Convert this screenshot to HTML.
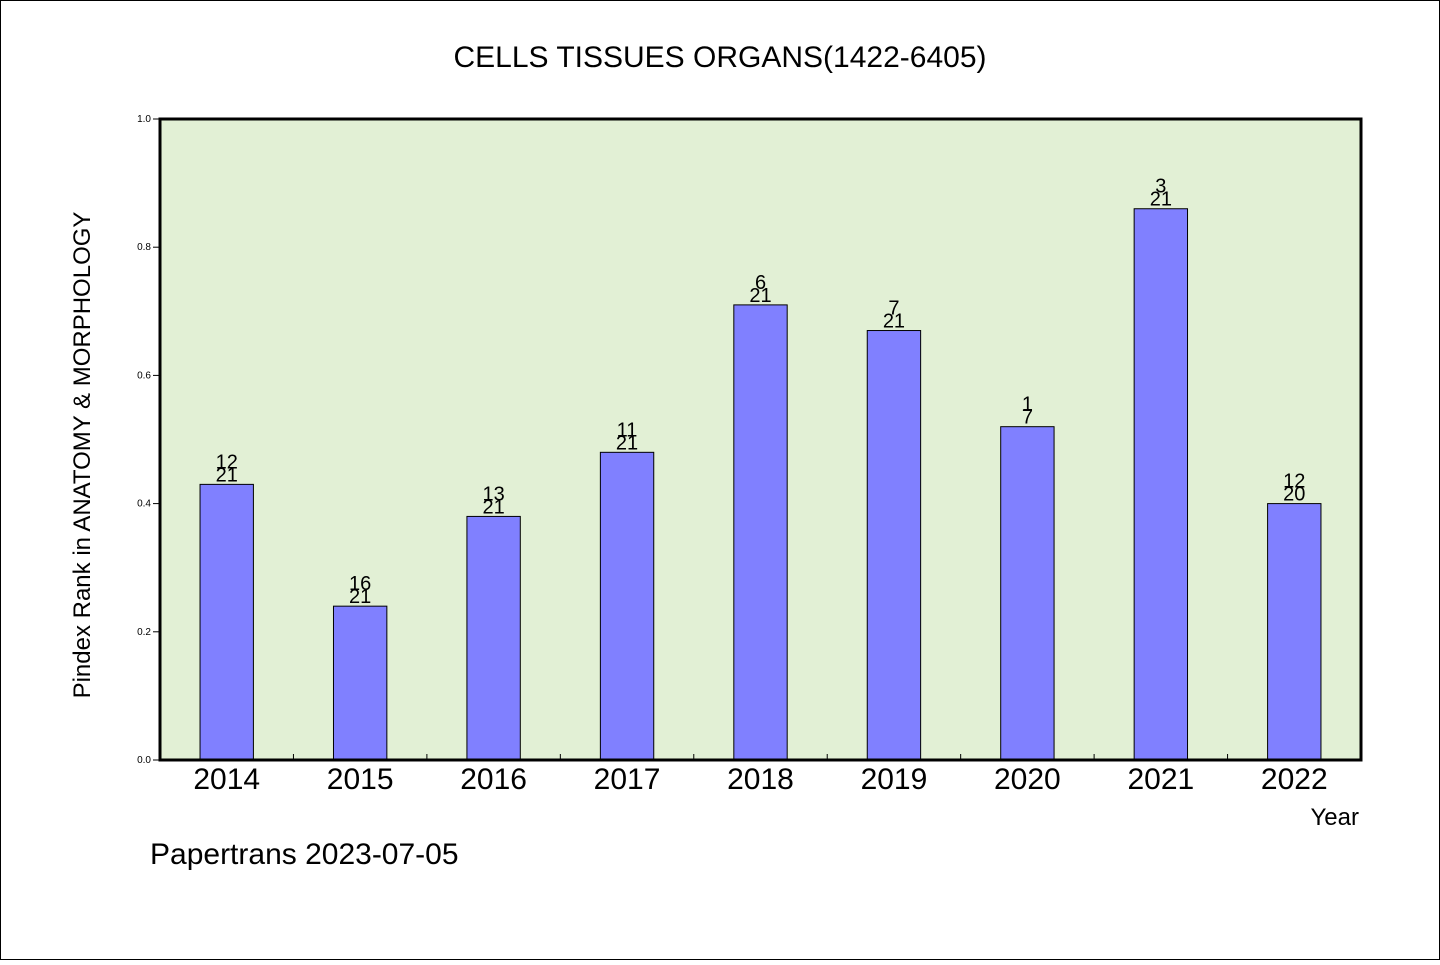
<!DOCTYPE html>
<html><head><meta charset="utf-8"><style>
html,body{margin:0;padding:0;background:#fff}
body{width:1440px;height:960px;overflow:hidden}
svg text{font-family:"WenQuanYi Zen Hei","Liberation Sans",sans-serif}
</style></head><body>
<svg id="chart" width="1440" height="960" xmlns="http://www.w3.org/2000/svg">
<rect x="0.5" y="0.5" width="1439" height="959" fill="#fff" stroke="#000" stroke-width="1"/>
<text x="720" y="67" font-size="30" text-anchor="middle">CELLS TISSUES ORGANS(1422-6405)</text>
<rect x="160" y="119" width="1201" height="641" fill="#e2f0d5"/>
<g id="bars"></g>
<g id="axes"></g>
<rect x="160" y="119" width="1201" height="641" fill="none" stroke="#000" stroke-width="3"/>
<text transform="translate(90,455) rotate(-90)" font-size="24" text-anchor="middle">Pindex Rank in ANATOMY &amp; MORPHOLOGY</text>
<text x="1359" y="825" font-size="24" text-anchor="end">Year</text>
<text x="150" y="864" font-size="30">Papertrans 2023-07-05</text>
</svg>
<script>
const categories = ["2014","2015","2016","2017","2018","2019","2020","2021","2022"];
const values = [0.43,0.24,0.38,0.48,0.71,0.67,0.52,0.86,0.40];
const ranks = ["12","16","13","11","6","7","1","3","12"];
const totals = ["21","21","21","21","21","21","7","21","20"];
const yTicks = [0,0.2,0.4,0.6,0.8,1.0];
const yTickLabels = ["0.0","0.2","0.4","0.6","0.8","1.0"];

const NS="http://www.w3.org/2000/svg";
const X0=160,X1=1361,Y0=760,Y1=119;
const band=(X1-X0)/categories.length;
const xc=i=>X0+band*(i+0.5);
const y=v=>Y0-(v)*(Y0-Y1);
function mk(tag,attrs,parent,txt){const e=document.createElementNS(NS,tag);for(const k in attrs)e.setAttribute(k,attrs[k]);if(txt!==undefined)e.textContent=txt;parent.appendChild(e);return e;}
const bars=document.getElementById('bars'),axes=document.getElementById('axes');
const bw=band*0.4;
values.forEach((v,i)=>{
  const r=mk('rect',{x:xc(i)-bw/2,y:y(v),width:bw,height:Y0-y(v),fill:'#8080ff',stroke:'#000','stroke-width':1},bars);
  
  
  const t1=mk('text',{x:xc(i),y:y(v)-16,'font-size':20,'text-anchor':'middle'},bars,ranks[i]);
  
  
  const t2=mk('text',{x:xc(i),y:y(v)-3,'font-size':20,'text-anchor':'middle'},bars,totals[i]);
  
  
  const xl=mk('text',{x:xc(i),y:789,'font-size':30,'text-anchor':'middle'},axes,categories[i]);
  
  
  if(i>0){const tk=mk('line',{x1:X0+band*i,x2:X0+band*i,y1:Y0,y2:Y0-6,stroke:'#000','stroke-width':1},axes);
  
  }
});
yTicks.forEach((v,i)=>{
  const tk=mk('line',{x1:X0-7,x2:X0,y1:y(v),y2:y(v),stroke:'#000','stroke-width':1},axes);
  
  
  const tl=mk('text',{x:X0-9,y:y(v)+3,'font-size':10,'text-anchor':'end'},axes,yTickLabels[i]);
  
  
});
</script>
</body></html>
